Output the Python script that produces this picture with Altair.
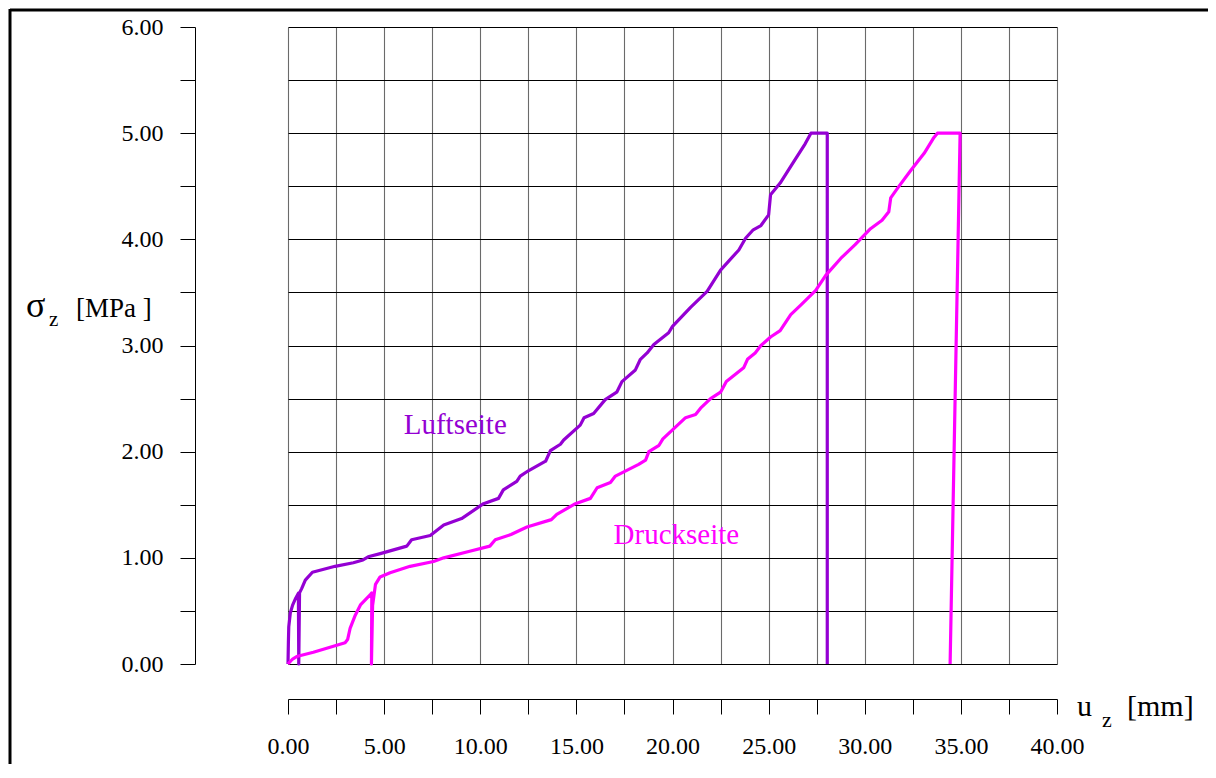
import altair as alt
import pandas as pd

# Luftseite (purple)
luft_x = [0, 0.02, 0.04, 0.12, 0.24, 0.40, 0.54, 0.56, 0.60, 0.71, 0.90, 1.27, 2.45, 3.40, 3.90,
          4.17, 4.80, 6.18, 6.43, 7.40, 8.10, 9.03, 10.17, 10.95, 11.20, 11.90, 12.08, 12.50,
          13.40, 13.65, 14.17, 14.34, 15.20, 15.40, 15.90, 16.50, 17.10, 17.37, 18.07, 18.33,
          18.68, 19.03, 19.80, 20.00, 20.94, 21.80, 22.50, 23.45, 23.80, 24.20, 24.60, 25.00,
          25.10, 25.60, 26.30, 26.90, 27.20, 28.05, 28.05]
luft_y = [0, 0.20, 0.35, 0.48, 0.555, 0.62, 0.666, 0.0, 0.67, 0.71, 0.79, 0.864, 0.92, 0.954, 0.98,
          1.01, 1.04, 1.11, 1.17, 1.21, 1.31, 1.37, 1.51, 1.56, 1.64, 1.72, 1.77, 1.82,
          1.91, 2.01, 2.07, 2.11, 2.25, 2.32, 2.36, 2.49, 2.56, 2.66, 2.77, 2.87,
          2.93, 3.01, 3.12, 3.18, 3.36, 3.51, 3.71, 3.90, 4.01, 4.09, 4.13, 4.23,
          4.42, 4.53, 4.73, 4.90, 5.00, 5.00, 0.00]

# Druckseite (magenta)
druck_x = [0, 0.24, 0.45, 1.32, 2.97, 3.10, 3.23, 3.50, 3.78, 4.27, 4.36, 4.34, 4.40, 4.55, 4.79,
           5.31, 6.35, 7.57, 8.10, 9.40, 10.50, 10.78, 11.60, 12.43, 13.70, 13.98, 14.95, 15.73,
           16.08, 16.77, 17.03, 18.24, 18.60, 18.77, 19.30, 19.50, 20.68, 21.20, 21.46, 21.98,
           22.50, 22.80, 23.70, 23.90, 24.30, 24.60, 25.10, 25.60, 26.15, 26.67, 27.45, 27.97,
           28.75, 29.50, 30.30, 30.90, 31.25, 31.35, 31.70, 32.40, 33.09, 33.60, 33.78, 34.96, 34.44]
druck_y = [0, 0.047, 0.07, 0.11, 0.20, 0.23, 0.335, 0.46, 0.56, 0.65, 0.67, 0.0, 0.55, 0.75, 0.82,
           0.86, 0.92, 0.965, 1.00, 1.06, 1.11, 1.17, 1.22, 1.29, 1.36, 1.41, 1.51, 1.56,
           1.66, 1.71, 1.77, 1.88, 1.92, 2.00, 2.06, 2.12, 2.32, 2.35, 2.41, 2.50,
           2.56, 2.66, 2.79, 2.87, 2.93, 3.00, 3.08, 3.14, 3.29, 3.38, 3.52, 3.66,
           3.82, 3.95, 4.10, 4.18, 4.26, 4.39, 4.48, 4.65, 4.81, 4.96, 5.00, 5.00, 0.00]

series_names = ["Luftseite", "Druckseite"]
series_colors = ["#9400D3", "#FF00FF"]
label_x = [8.7, 20.2]
label_y = [2.25, 1.215]

x_ticks = [i * 2.5 for i in range(17)]
y_ticks = [i * 0.5 for i in range(13)]

FONT = "Liberation Serif"

rows = []
for i, (a, b) in enumerate(zip(luft_x, luft_y)):
    rows.append({"x": a, "y": b, "s": series_names[0], "i": i})
for i, (a, b) in enumerate(zip(druck_x, druck_y)):
    rows.append({"x": a, "y": b, "s": series_names[1], "i": i})
df = pd.DataFrame(rows)

lab_df = pd.DataFrame({"x": label_x, "y": label_y, "s": series_names})

W, H = 769, 637
PAD_R = 151

xscale = alt.Scale(domain=[0, 40], nice=False, zero=False)
yscale = alt.Scale(domain=[0, 6], nice=False, zero=False)
cscale = alt.Scale(domain=series_names, range=series_colors)

xaxis = alt.Axis(values=x_ticks, offset=35, tickSize=15, tickColor="#000", domainColor="#000",
                 grid=True, gridColor="#6a6a6a", gridWidth=1.1, gridOpacity=1,
                 labelExpr="datum.value % 5 == 0 ? format(datum.value, '.2f') : ''",
                 labelFont=FONT, labelFontSize=24, labelFontWeight="normal", labelColor="#000",
                 labelFlush=False, labelOverlap=False, labelBaseline="alphabetic",
                 labelPadding=39, title=None)
yaxis = alt.Axis(values=y_ticks, offset=93, tickSize=15, tickColor="#000", domainColor="#000",
                 grid=True, gridColor="#000", gridWidth=1, gridOpacity=1,
                 labelExpr="datum.value % 1 == 0 ? format(datum.value, '.2f') : ''",
                 labelFont=FONT, labelFontSize=24, labelFontWeight="normal", labelColor="#000",
                 labelFlush=False, labelOverlap=False, labelPadding=17, title=None)

lines = alt.Chart(df).mark_line(strokeWidth=3.2, strokeJoin="round").encode(
    x=alt.X("x:Q", scale=xscale, axis=xaxis),
    y=alt.Y("y:Q", scale=yscale, axis=yaxis),
    color=alt.Color("s:N", scale=cscale, legend=None),
    order=alt.Order("i:Q"),
    detail="s:N",
)

labels = alt.Chart(lab_df).mark_text(font=FONT, fontSize=29, align="center", baseline="middle").encode(
    x=alt.X("x:Q", scale=xscale, axis=xaxis),
    y=alt.Y("y:Q", scale=yscale, axis=yaxis),
    text="s:N",
    color=alt.Color("s:N", scale=cscale, legend=None),
)

one = pd.DataFrame({"k": [0]})

def txt(t, px, py, size):
    return alt.Chart(one).mark_text(text=t, font=FONT, fontSize=size, align="left",
                                    baseline="alphabetic", color="#000").encode(
        x=alt.value(px), y=alt.value(py))

titles = (txt("σ", -262, 290, 36) + txt("z", -239, 299, 21) + txt("[MPa ]", -212, 290, 27)
          + txt("u", 789, 689, 30) + txt("z", 814, 700, 22) + txt("[mm]", 839, 689, 30))

border_top = alt.Chart(one).mark_rule(stroke="#000", strokeWidth=3, strokeCap="butt").encode(
    x=alt.value(-278), x2=alt.value(W + PAD_R), y=alt.value(-17))
border_left = alt.Chart(one).mark_rule(stroke="#000", strokeWidth=3, strokeCap="butt").encode(
    x=alt.value(-278), y=alt.value(-18), y2=alt.value(H + 100))

chart = alt.layer(border_top, border_left, lines, labels, titles).properties(
    width=W, height=H,
    autosize=alt.AutoSizeParams(type="none"),
    padding={"left": 280, "top": 19, "right": PAD_R, "bottom": 100},
).configure_view(strokeWidth=0).configure_axis(
    labelFont=FONT, labelFontSize=24, labelFontWeight="normal", labelColor="#000")

chart.save("out.html", embed_options={"renderer": "svg", "actions": False})
